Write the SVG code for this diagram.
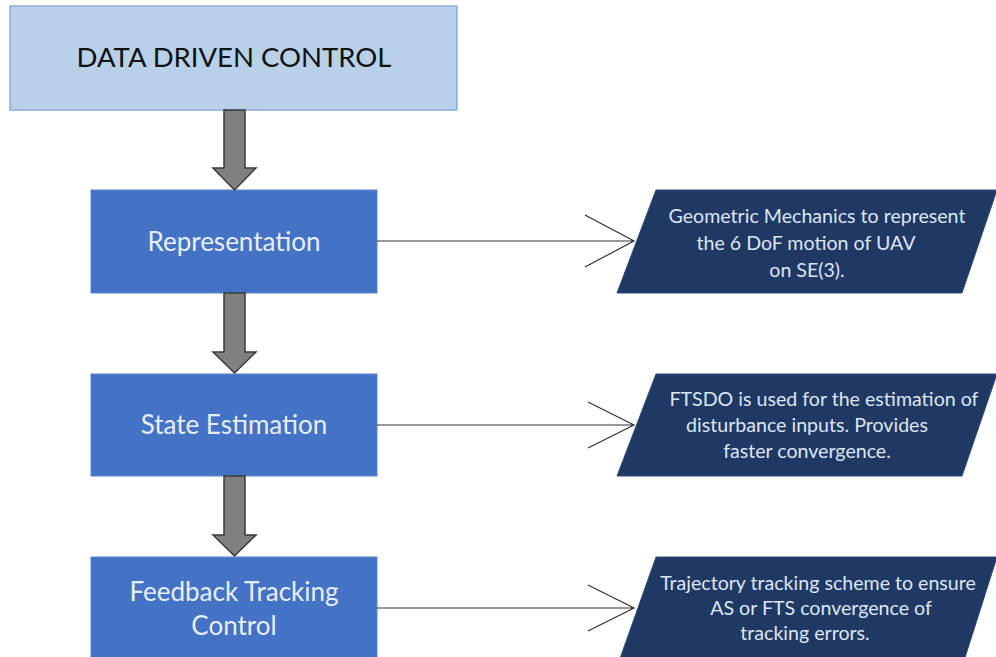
<svg xmlns="http://www.w3.org/2000/svg" width="996" height="657" viewBox="0 0 996 657">
<defs>
<style>
.top{fill:#b9d0ea;stroke:#8eaedb;stroke-width:1.5}
.blk{fill:#4472c4;stroke:#5b84cc;stroke-width:1}
.para{fill:#203864;stroke:#2f4a7a;stroke-width:1}
.big{font-family:Lato,"Liberation Sans",sans-serif;fill:#e8eef8;font-size:26px;text-anchor:middle}
.small{font-family:Lato,"Liberation Sans",sans-serif;fill:#dde6f3;font-size:19.6px;text-anchor:middle}
.title{font-family:Lato,"Liberation Sans",sans-serif;fill:#111;font-size:27.5px;text-anchor:middle}
.fat{fill:#808080;stroke:#3a3a3a;stroke-width:1.5}
.ln{stroke:#333;stroke-width:1.2;fill:none}
</style>
</defs>
<g id="data-driven-control">
<rect class="top" x="10" y="6" width="447" height="104"/>
<text class="title" x="234" y="67">DATA DRIVEN CONTROL</text>
</g>
<g id="representation">
<rect class="blk" x="91" y="190" width="286" height="103"/>
<text class="big" x="234" y="251">Representation</text>
</g>
<g id="state-estimation">
<rect class="blk" x="91" y="374" width="286" height="102"/>
<text class="big" x="234" y="434">State Estimation</text>
</g>
<g id="feedback-tracking-control">
<rect class="blk" x="91" y="557" width="286" height="110"/>
<text class="big" x="234" y="601">Feedback Tracking</text>
<text class="big" x="234" y="635">Control</text>
</g>
<g id="geometric-mechanics">
<polygon class="para" points="656,190 997,190 962,293 617,293"/>
<text class="small" x="817" y="223">Geometric Mechanics to represent</text>
<text class="small" x="806" y="250">the 6 DoF motion of UAV</text>
<text class="small" x="807" y="277">on SE(3).</text>
</g>
<g id="ftsdo">
<polygon class="para" points="656,374 997,374 962,476 617,476"/>
<text class="small" x="824" y="406">FTSDO is used for the estimation of</text>
<text class="small" x="807" y="432">disturbance inputs. Provides</text>
<text class="small" x="807" y="458">faster convergence.</text>
</g>
<g id="trajectory-tracking">
<polygon class="para" points="656,557 997,557 962,667 617,667"/>
<text class="small" x="818" y="590">Trajectory tracking scheme to ensure</text>
<text class="small" x="821" y="615">AS or FTS convergence of</text>
<text class="small" x="805" y="640">tracking errors.</text>
</g>
<g id="connectors">
<polygon class="fat" points="224,110 245,110 245,168 256,168 234.5,190 213,168 224,168"/>
<polygon class="fat" points="224,293 245,293 245,352 256,352 234.5,373 213,352 224,352"/>
<polygon class="fat" points="224,476 245,476 245,535 256,535 234.5,556 213,535 224,535"/>
<path class="ln" d="M377,241 H634 M585,215 L634,241 L585,267"/>
<path class="ln" d="M377,425 H634 M588,402 L634,425 L588,448"/>
<path class="ln" d="M377,608 H634 M588,585 L634,608 L588,631"/>
</g>
</svg>
